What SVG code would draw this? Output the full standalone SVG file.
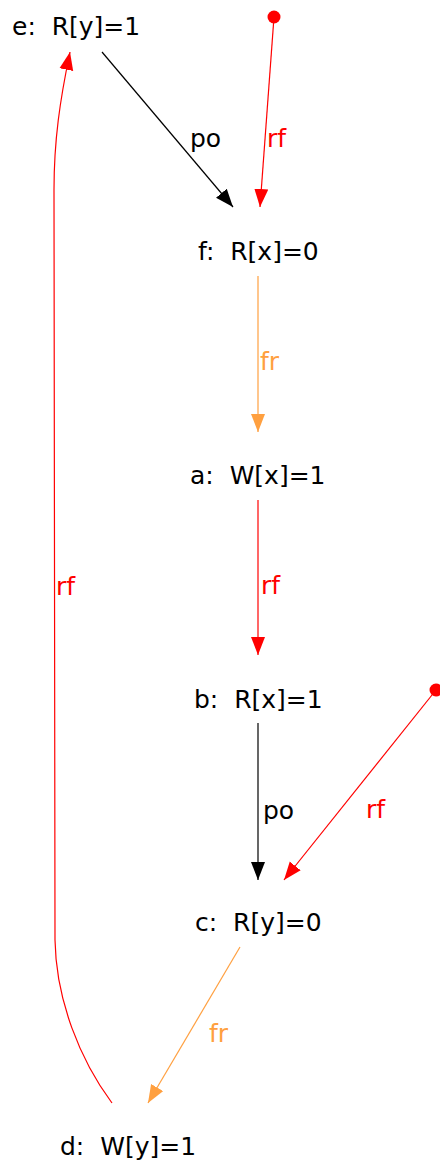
<svg xmlns="http://www.w3.org/2000/svg" width="440" height="1164" viewBox="0 0 440 1164">
<style>
.n{font-family:"DejaVu Sans","Liberation Sans",sans-serif;font-size:25px;fill:#000;white-space:pre}
.l{font-family:"DejaVu Sans","Liberation Sans",sans-serif;font-size:25px;white-space:pre}
.e{fill:none;stroke-width:1.2}
.k{stroke:#000}
.r{stroke:#ff0000}
.o{stroke:#ffa040}
</style>
<defs>
<marker id="ak" markerUnits="userSpaceOnUse" markerWidth="19" markerHeight="15" refX="18" refY="7.5" orient="auto"><path d="M0,0.5 L18,7.5 L0,14.5 z" fill="#000"/></marker>
<marker id="ar" markerUnits="userSpaceOnUse" markerWidth="19" markerHeight="15" refX="18" refY="7.5" orient="auto"><path d="M0,0.5 L18,7.5 L0,14.5 z" fill="#ff0000"/></marker>
<marker id="ao" markerUnits="userSpaceOnUse" markerWidth="19" markerHeight="15" refX="18" refY="7.5" orient="auto"><path d="M0,0.5 L18,7.5 L0,14.5 z" fill="#ffa040"/></marker>
</defs>
<g id="edges">
<path class="e k" d="M102,52 L233,207" marker-end="url(#ak)"/>
<text class="l" x="190" y="147" fill="#000">po</text>
<circle cx="274" cy="17" r="6.5" fill="#ff0000"/>
<path class="e r" d="M274,17 L260,207" marker-end="url(#ar)"/>
<text class="l" x="267" y="147" fill="#ff0000">rf</text>
<path class="e o" d="M258,276 L258,432" marker-end="url(#ao)"/>
<text class="l" x="260" y="370" fill="#ffa040">fr</text>
<path class="e r" d="M258,500 L258,655" marker-end="url(#ar)"/>
<text class="l" x="261" y="594" fill="#ff0000">rf</text>
<path class="e k" d="M258,723 L258,880" marker-end="url(#ak)"/>
<text class="l" x="263" y="819" fill="#000">po</text>
<circle cx="436" cy="690" r="6.5" fill="#ff0000"/>
<path class="e r" d="M436,690 L284,880" marker-end="url(#ar)"/>
<text class="l" x="366" y="818" fill="#ff0000">rf</text>
<path class="e o" d="M240,947 L148,1103" marker-end="url(#ao)"/>
<text class="l" x="209" y="1042" fill="#ffa040">fr</text>
<path class="e r" d="M112,1103 C80,1060 56,1000 55,940 L54,190 C54,140 60,100 70,52" marker-end="url(#ar)"/>
<text class="l" x="56" y="595" fill="#ff0000">rf</text>
</g>
<g id="e"><text class="n" x="12" y="35">e:  R[y]=1</text></g>
<g id="f"><text class="n" x="198" y="260">f:  R[x]=0</text></g>
<g id="a"><text class="n" x="190" y="484">a:  W[x]=1</text></g>
<g id="b"><text class="n" x="194" y="708">b:  R[x]=1</text></g>
<g id="c"><text class="n" x="195" y="931">c:  R[y]=0</text></g>
<g id="d"><text class="n" x="60" y="1155">d:  W[y]=1</text></g>
</svg>
